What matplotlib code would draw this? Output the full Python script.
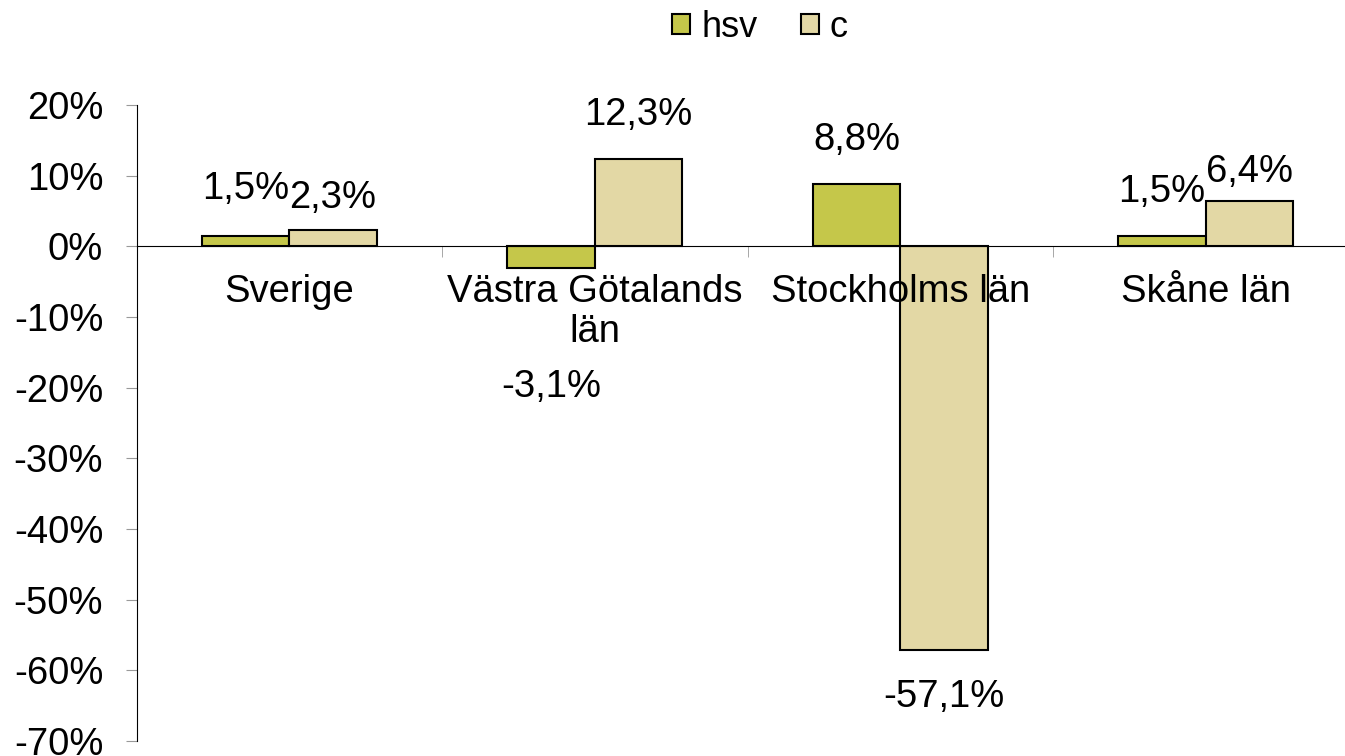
import matplotlib
matplotlib.use('Agg')
import matplotlib.pyplot as plt
import numpy as np

plt.rcParams['font.family'] = ['Liberation Sans', 'DejaVu Sans']

# kategorier och värden (andel)
kategorier = ['Sverige', 'Västra Götalands\nlän', 'Stockholms län', 'Skåne län']
hsv = [0.015, -0.031, 0.088, 0.015]
c = [0.023, 0.123, -0.571, 0.064]
hsv_text = ['1,5%', '-3,1%', '8,8%', '1,5%']
c_text = ['2,3%', '12,3%', '-57,1%', '6,4%']

# etikettförskjutning i pixlar (som i originalet)
hsv_off = [47, -119, 44, 44]
c_off = [32, 44, -47, 29]

fs = 27.5

fig = plt.figure(figsize=(13.45, 7.56), dpi=100)
ax = fig.add_axes([136.5 / 1345, 1 - 741 / 756, 1222 / 1345, 636 / 756])

x = np.arange(len(kategorier))
w = 0.286
ax.bar(x - w / 2, hsv, w, color='#C5C74A', edgecolor='black', linewidth=1.5, label='hsv')
ax.bar(x + w / 2, c, w, color='#E3D8A5', edgecolor='black', linewidth=1.5, label='c')

for i in range(len(x)):
    ax.annotate(hsv_text[i], (x[i] - w / 2, hsv[i]), xytext=(0, hsv_off[i]),
                textcoords='offset pixels', ha='center', va='center', fontsize=fs)
    ax.annotate(c_text[i], (x[i] + w / 2, c[i]), xytext=(0, c_off[i]),
                textcoords='offset pixels', ha='center', va='center', fontsize=fs)

ax.set_xlim(-0.5, 3.5)
ax.set_ylim(-0.7, 0.2)
yt = np.arange(-7, 3) / 10
ax.set_yticks(yt)
ax.set_yticklabels(['%d%%' % round(v * 100) for v in yt], fontsize=fs)
ax.tick_params(axis='y', direction='out', length=8, color='#999999', pad=16)

ax.spines['top'].set_visible(False)
ax.spines['right'].set_visible(False)
ax.spines['bottom'].set_position(('data', 0))

ax.set_xticks(x)
ax.set_xticklabels(kategorier, fontsize=fs, linespacing=1.15)
ax.tick_params(axis='x', which='major', length=0, pad=20)
ax.set_xticks(np.arange(0.5, 4, 1), minor=True)
ax.tick_params(axis='x', which='minor', direction='out', length=8, color='#999999')

fig.legend(loc='center', bbox_to_anchor=(0.565, 0.964), ncol=2, frameon=False,
           fontsize=26, handlelength=0.5, handleheight=0.5, handletextpad=0.3,
           columnspacing=1.2)

fig.savefig('out.png', dpi=100)
